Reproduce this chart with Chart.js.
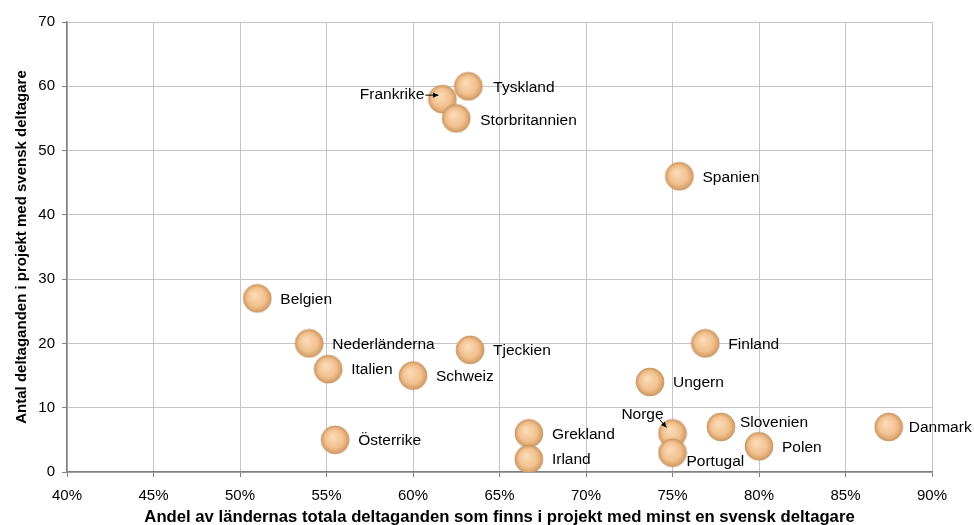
<!DOCTYPE html>
<html>
<head>
<meta charset="utf-8">
<script src="https://cdn.jsdelivr.net/npm/chart.js@4"></script>
<style>
  html, body { margin: 0; padding: 0; background: #fff; }
  #wrap { width: 974px; height: 525px; }
</style>
</head>
<body>
<div id="wrap"><canvas id="chartdiv" width="974" height="525"></canvas></div>
<script>
// data
const countries = ['Tyskland', 'Frankrike', 'Storbritannien', 'Spanien', 'Belgien',
  'Nederländerna', 'Italien', 'Schweiz', 'Tjeckien', 'Finland', 'Ungern',
  'Österrike', 'Grekland', 'Irland', 'Norge', 'Portugal', 'Slovenien', 'Polen', 'Danmark'];
const shareOfTotal = [63.2, 61.7, 62.5, 75.4, 51.0, 54.0, 55.1, 60.0, 63.3, 76.9, 73.7,
  55.5, 66.7, 66.7, 75.0, 75.0, 77.8, 80.0, 87.5];
const participations = [60, 58, 55, 46, 27, 20, 16, 15, 19, 20, 14, 5, 6, 2, 6, 3, 7, 4, 7];
const xTicks = [40, 45, 50, 55, 60, 65, 70, 75, 80, 85, 90];

// label placement (pixels relative to the bubble centre)
const labelPlace = {
  Frankrike: { dx: -18, dy: -4, align: 'right', arrow: [-17, -4, -4, -4] },
  Norge: { dx: -30, dy: -19, align: 'center', arrow: [-13, -14, -6, -6] },
  Portugal: { dx: 14, dy: 9 },
  Slovenien: { dx: 19, dy: -4 },
  Danmark: { dx: 20, dy: 1 },
  Tyskland: { dx: 25, dy: 1 },
  Storbritannien: { dx: 24, dy: 2 }
};

// bubble sprite
function makeBubble(r) {
  const c = document.createElement('canvas');
  c.width = c.height = r * 2 + 2;
  const g = c.getContext('2d');
  const cx = r + 1, cy = r + 1;
  const grad = g.createRadialGradient(cx - r * 0.2, cy - r * 0.25, r * 0.05, cx, cy, r);
  grad.addColorStop(0, '#fbdcb8');
  grad.addColorStop(0.65, '#f2c08e');
  grad.addColorStop(1, '#cf9a63');
  g.beginPath();
  g.arc(cx, cy, r, 0, Math.PI * 2);
  g.fillStyle = grad;
  g.fill();
  g.lineWidth = 0.6;
  g.strokeStyle = '#c08c58';
  g.stroke();
  return c;
}
const bubble = makeBubble(14);

const labelPlugin = {
  id: 'countryLabels',
  afterDatasetsDraw(chart) {
    const ctx = chart.ctx;
    const meta = chart.getDatasetMeta(0);
    ctx.save();
    ctx.font = '15.5px "Liberation Sans", Arial, sans-serif';
    ctx.fillStyle = '#000';
    ctx.textBaseline = 'middle';
    meta.data.forEach((pt, i) => {
      const name = countries[i];
      const p = labelPlace[name] || { dx: 23, dy: 1 };
      ctx.textAlign = p.align || 'left';
      ctx.fillText(name, pt.x + p.dx, pt.y + p.dy);
      if (p.arrow) {
        const [x1, y1, x2, y2] = p.arrow;
        const ax = pt.x + x1, ay = pt.y + y1, bx = pt.x + x2, by = pt.y + y2;
        ctx.strokeStyle = '#000';
        ctx.lineWidth = 1;
        ctx.beginPath();
        ctx.moveTo(ax, ay);
        ctx.lineTo(bx, by);
        ctx.stroke();
        const ang = Math.atan2(by - ay, bx - ax);
        ctx.beginPath();
        ctx.moveTo(bx, by);
        ctx.lineTo(bx - 6 * Math.cos(ang - 0.45), by - 6 * Math.sin(ang - 0.45));
        ctx.lineTo(bx - 6 * Math.cos(ang + 0.45), by - 6 * Math.sin(ang + 0.45));
        ctx.closePath();
        ctx.fill();
      }
    });
    ctx.restore();
  }
};

const family = '"Liberation Sans", Arial, sans-serif';
const tickFont = { family: family, size: 15 };

new Chart(document.getElementById('chartdiv'), {
  type: 'scatter',
  data: {
    datasets: [{
      data: countries.map((c, i) => ({ x: shareOfTotal[i], y: participations[i] })),
      pointStyle: bubble,
      pointRadius: 14,
      pointHoverRadius: 14
    }]
  },
  options: {
    responsive: false,
    animation: false,
    layout: { padding: { top: 22, right: 42, left: 0, bottom: 0 } },
    plugins: { legend: { display: false }, tooltip: { enabled: false } },
    scales: {
      x: {
        type: 'linear', min: 40, max: 90,
        afterBuildTicks: s => { s.ticks = xTicks.map(v => ({ value: v })); },
        afterFit: s => { s.height = 53; },
        ticks: { color: '#000', font: tickFont, padding: 10, callback: v => v + '%' },
        grid: { color: '#c4c4c4', tickColor: '#808080', tickLength: 5 },
        border: { color: '#808080', width: 1.5 },
        title: {
          display: true, color: '#000', padding: { top: 0, bottom: -2.5 },
          text: 'Andel av ländernas totala deltaganden som finns i projekt med minst en svensk deltagare',
          font: { family: family, size: 16.7, weight: 'bold' }
        }
      },
      y: {
        min: 0, max: 70,
        afterFit: s => { s.width = 67; },
        ticks: { stepSize: 10, color: '#000', font: tickFont, padding: 7 },
        grid: { color: '#c4c4c4', tickColor: '#808080', tickLength: 5 },
        border: { color: '#808080', width: 1.5 },
        title: {
          display: true, color: '#000', padding: { top: 13, bottom: 0 },
          text: 'Antal deltaganden i projekt med svensk deltagare',
          font: { family: family, size: 15, weight: 'bold' }
        }
      }
    }
  },
  plugins: [labelPlugin]
});
</script>
</body>
</html>
